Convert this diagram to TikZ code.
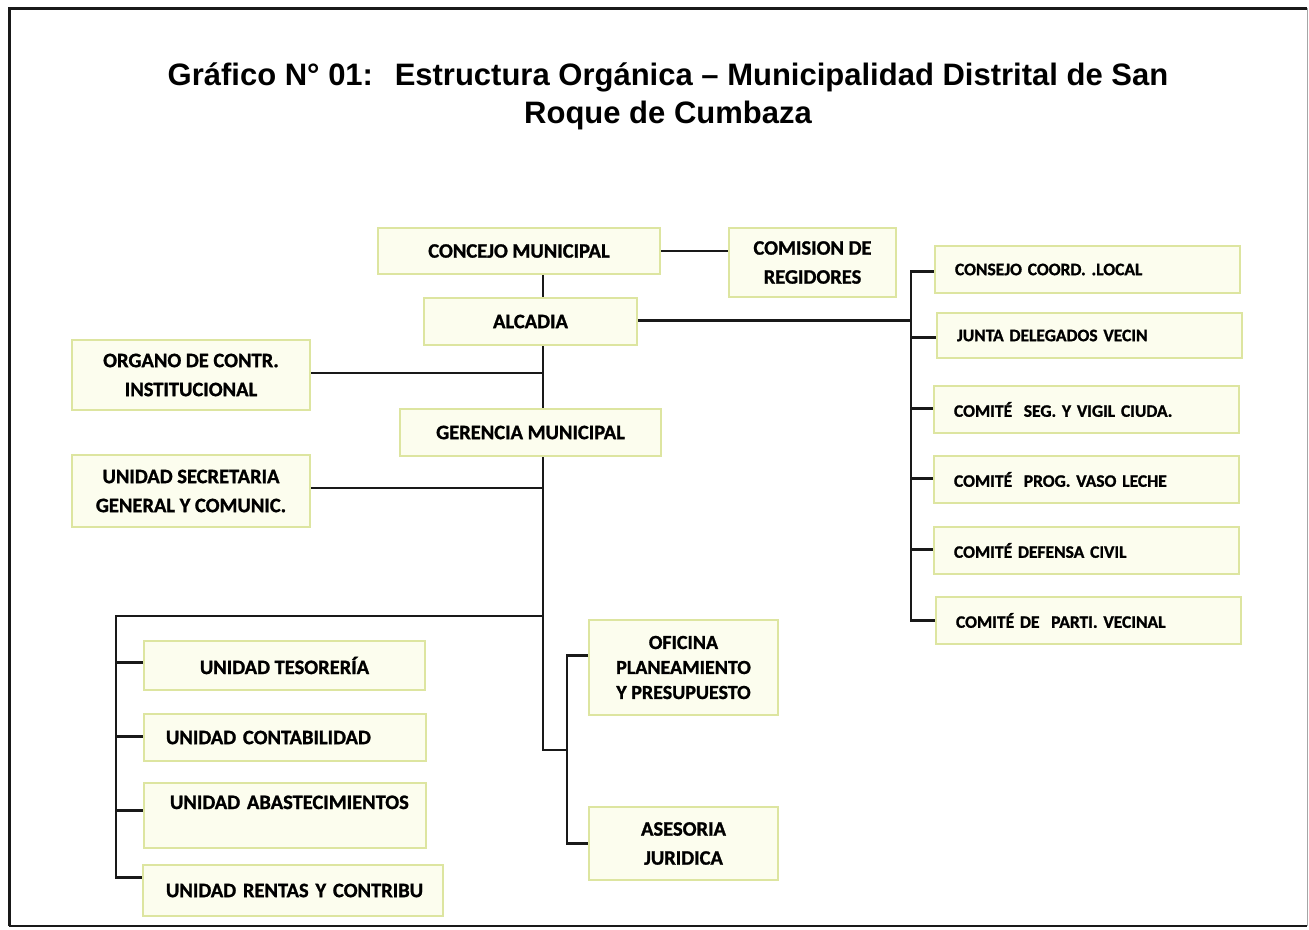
\documentclass[tikz,border=0pt]{standalone}
\usepackage{fontspec}
\setmainfont{Carlito}[BoldFeatures={FakeBold=1.2}]
\newfontfamily\titlefont{Liberation Sans}
\usetikzlibrary{calc}
\definecolor{boxfill}{RGB}{252,253,238}
\definecolor{boxline}{RGB}{221,229,160}
\definecolor{frameline}{RGB}{25,25,25}
\tikzset{
  box/.style={draw=boxline, line width=2.2pt, fill=boxfill, inner sep=0pt,
    font=\bfseries\fontsize{20.5}{29}\selectfont, align=center},
  lbox/.style={box, align=left},
  rbox/.style={box, font=\bfseries\fontsize{17.5}{24}\selectfont, align=left,
    minimum width=305pt, minimum height=47pt, text width=265pt},
  conn/.style={draw=black!90, line width=2.2pt},
}
\begin{document}
\begin{tikzpicture}[x=1pt,y=-1pt]
\useasboundingbox (0,0) rectangle (1309,929);
% frame
\draw[frameline, line width=3pt] (9,926) -- (9,8) -- (1307,8);
\draw[frameline, line width=2.5pt] (9,926) -- (1307,926);
\draw[black!35, line width=1pt] (1307,8) -- (1307,926);
% title
\node[font=\titlefont\bfseries\fontsize{31}{38}\selectfont, align=center] (title) at (668,96)
  {Gráfico N° 01:\hspace{0.7em}Estructura Orgánica – Municipalidad Distrital de San\\
   Roque de Cumbaza};
% top boxes
\node[box, minimum width=282pt, minimum height=46pt] (concejo) at (519,251) {CONCEJO MUNICIPAL};
\node[box, minimum width=167pt, minimum height=69pt] (comision) at (812.5,262.5) {COMISION DE\\REGIDORES};
\node[box, minimum width=213pt, minimum height=47pt] (alcadia) at (530.5,321.5) {ALCADIA};
\node[box, minimum width=238pt, minimum height=70pt] (organo) at (191,375) {ORGANO DE CONTR.\\INSTITUCIONAL};
\node[box, minimum width=261pt, minimum height=47pt] (gerencia) at (530.5,432.5) {GERENCIA MUNICIPAL};
\node[box, minimum width=238pt, minimum height=72pt] (secretaria) at (191,491) {UNIDAD SECRETARIA\\GENERAL Y COMUNIC.};
% bottom left boxes
\node[box, minimum width=281pt, minimum height=49pt] (tesoreria) at (284.5,665.5) {UNIDAD TESORERÍA};
\node[lbox, minimum width=282pt, minimum height=47pt, text width=262pt] (contabilidad) at (285,737.5) {\hspace*{12pt}UNIDAD CONTABILIDAD};
\node[lbox, minimum width=282pt, minimum height=65pt, text width=262pt, text depth=27pt, text height=14pt] (abastec) at (285,815.5) {\hspace*{16pt}UNIDAD ABASTECIMIENTOS};
\node[lbox, minimum width=300pt, minimum height=51pt, text width=280pt] (rentas) at (293,890.5) {\hspace*{13pt}UNIDAD RENTAS Y CONTRIBU};
% bottom middle boxes
\node[box, minimum width=189pt, minimum height=95pt, font=\bfseries\fontsize{20}{25}\selectfont] (oficina) at (683.5,667.5) {OFICINA\\PLANEAMIENTO\\Y PRESUPUESTO};
\node[box, minimum width=189pt, minimum height=73pt] (asesoria) at (683.5,843.5) {ASESORIA\\JURIDICA};
% right boxes
\node[rbox] (consejo) at (1087.5,269.5) {CONSEJO COORD. .LOCAL};
\node[rbox, minimum height=45pt] (junta) at (1089.5,335.5) {JUNTA DELEGADOS VECIN};
\node[rbox] (seg) at (1086.5,409.5) {COMITÉ \ SEG. Y VIGIL CIUDA.};
\node[rbox] (prog) at (1086.5,479.5) {COMITÉ \ PROG. VASO LECHE};
\node[rbox] (defensa) at (1086.5,550.5) {COMITÉ DEFENSA CIVIL};
\node[rbox] (parti) at (1088.5,620.5) {COMITÉ DE \ PARTI. VECINAL};
% junction coordinates
\coordinate (spine) at (543,0);
\coordinate (lb) at (543,750);
\coordinate (j2) at (567,750);
\coordinate (lt) at (116,616);
\coordinate (rv) at (911,0);
% connectors
\draw[conn] (concejo.east) -- (concejo.east -| comision.west);
\draw[conn] (concejo.south -| spine) -- (alcadia.north -| spine);
\draw[conn] (alcadia.south -| spine) -- (gerencia.north -| spine);
\draw[conn] ($(organo.east)+(0,-2)$) -- ($(organo.east -| spine)+(0,-2)$);
\draw[conn] ($(secretaria.east)+(0,-3)$) -- ($(secretaria.east -| spine)+(0,-3)$);
\draw[conn] (gerencia.south -| spine) -- (lb) -- (j2);
\draw[conn] ($(oficina.west)+(0,-12)$) -- ($(oficina.west -| j2)+(0,-12)$) -- (asesoria.west -| j2) -- (asesoria.west);
\draw[conn] (spine |- lt) -- (lt) -- ($(lt |- rentas.west)+(0,-13)$) -- ($(rentas.west)+(0,-13)$);
\draw[conn] ($(tesoreria.west -| lt)+(0,-3)$) -- ($(tesoreria.west)+(0,-3)$);
\draw[conn] ($(contabilidad.west -| lt)+(0,-1)$) -- ($(contabilidad.west)+(0,-1)$);
\draw[conn] ($(abastec.west -| lt)+(0,-5)$) -- ($(abastec.west)+(0,-5)$);
\draw[conn] ($(alcadia.east)+(0,-1)$) -- ($(alcadia.east -| rv)+(0,-1)$);
\draw[conn] ($(consejo.west)+(0,2)$) -- ($(consejo.west -| rv)+(0,2)$) -- (parti.west -| rv) -- (parti.west);
\draw[conn] ($(junta.west -| rv)+(0,2)$) -- ($(junta.west)+(0,2)$);
\draw[conn] ($(seg.west -| rv)+(0,-1)$) -- ($(seg.west)+(0,-1)$);
\draw[conn] ($(prog.west -| rv)+(0,-1)$) -- ($(prog.west)+(0,-1)$);
\draw[conn] ($(defensa.west -| rv)+(0,-1)$) -- ($(defensa.west)+(0,-1)$);
\end{tikzpicture}
\end{document}
